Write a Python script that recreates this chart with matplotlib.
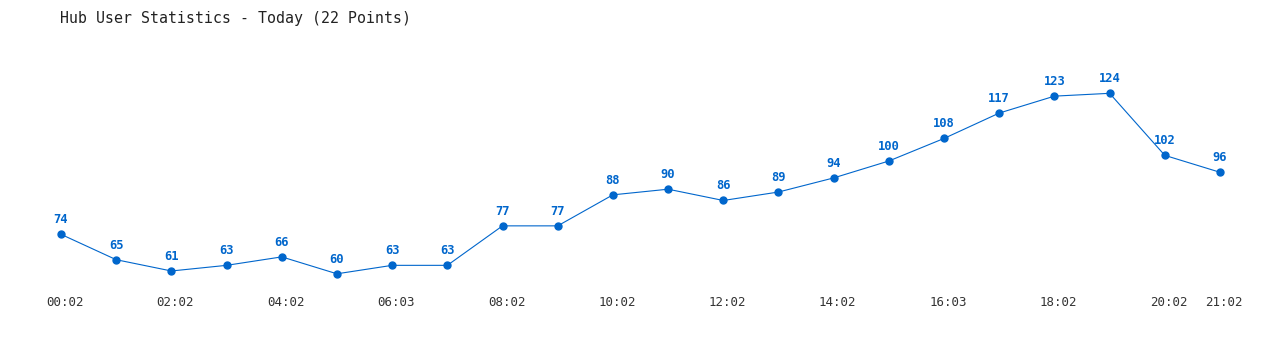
import matplotlib.pyplot as plt
import matplotlib.transforms as mtransforms

# values
users = [74, 65, 61, 63, 66, 60, 63, 63, 77, 77, 88, 90, 86, 89, 94, 100,
         108, 117, 123, 124, 102, 96]
tick_pos = [0, 2, 4, 6, 8, 10, 12, 14, 16, 18, 20, 21]
tick_labels = ["00:02", "02:02", "04:02", "06:03", "08:02", "10:02", "12:02",
               "14:02", "16:03", "18:02", "20:02", "21:02"]

blue = "#0066cc"
mono = "DejaVu Sans Mono"

fig = plt.figure(figsize=(12.8, 3.5), dpi=100)
ax = fig.add_axes([0, 0, 1, 1])
ax.set_axis_off()

# point i sits at pixel 61 + 55.19*i, value v at pixel-from-top 443 - 2.82*v
step = 55.19
ax.set_xlim(-61 / step, (1280 - 61) / step)
ax.set_ylim((443 - 350) / 2.82, 443 / 2.82)

x = list(range(len(users)))
ax.plot(x, users, color=blue, lw=0.8, marker="o", ms=5, mec=blue, mfc=blue)

for i, v in enumerate(users):
    ax.annotate(str(v), (i, v), xytext=(0, 10.5), textcoords="offset points",
                ha="center", va="center", color=blue, fontsize=8.7,
                fontweight="bold", family=mono)

# time labels along the bottom
trans = mtransforms.blended_transform_factory(ax.transData, fig.transFigure)
off = mtransforms.ScaledTranslation(4 / 100, 0, fig.dpi_scale_trans)
for p, lab in zip(tick_pos, tick_labels):
    ax.text(p, 1 - 303 / 350, lab, transform=trans + off, ha="center",
            va="center", fontsize=9, color="#333333", family=mono)

fig.text(60 / 1280, 1 - 18 / 350, "Hub User Statistics - Today (22 Points)",
         ha="left", va="center", fontsize=10.75, color="#222222", family=mono)

fig.savefig("out.png", dpi=100)
